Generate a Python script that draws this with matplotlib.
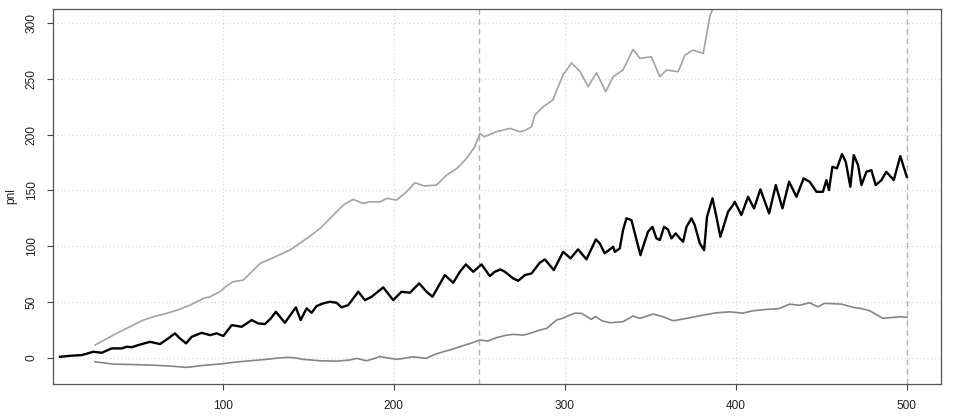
import numpy as np
import matplotlib
matplotlib.use("Agg")
import matplotlib.pyplot as plt

# pnl series (x = step, y = pnl)
pnl_x = [4.9, 11, 17.6, 24.4, 29.3, 35.1, 41, 43.9, 47, 50.7, 57.5, 63.4, 68.2, 72.1, 75, 78.6,
         81.9, 87.7, 92.6, 96.5, 100.4, 105.3, 111.1, 117, 120.8, 124.7, 128, 131.1, 133.5,
         136.4, 142.8, 145.6, 149.1, 152, 154.9, 158.8, 162.7, 166.6, 169.5, 173.4, 179.3,
         183.2, 187.1, 193.9, 199.7, 204.6, 209.5, 214.9, 219.2, 222.7, 226, 229.9, 234.8,
         238.7, 242.2, 246.5, 251.4, 256.2, 259.1, 262.5, 265, 269.8, 272.8, 276.7, 280.6,
         285.4, 288.4, 293.6, 299.1, 303.4, 307.8, 312.7, 318.2, 320.5, 323.4, 328.3, 329.3,
         332.2, 334.1, 336.1, 339, 342, 344.3, 345.8, 348.7, 351.3, 353.6, 355.6, 358.1, 360.4,
         362.4, 364.9, 367.3, 369.2, 371.2, 374.1, 376, 379, 381.5, 383.2, 386.4, 388.7, 391,
         395.5, 398.4, 399.4, 403.3, 407.2, 410.7, 414.4, 419.5, 423.4, 427.3, 431.2, 435.5,
         439.7, 443.2, 447.2, 451, 453, 454.5, 456.5, 459.2, 462.1, 464.3, 467, 469, 471.5,
         473.5, 476.4, 479.3, 481.8, 485.2, 488, 492.4, 496.2, 500]
pnl_y = [0.9, 1.8, 2.4, 5.4, 4.5, 8.4, 8.4, 9.9, 9.5, 11.4, 14.3, 12.3, 17.4, 21.9, 17.4, 12.9,
         18.8, 22.4, 20.3, 21.9, 19.5, 29.3, 27.8, 33.8, 30.8, 30.2, 35, 41.2, 36.8, 31.4, 45.2,
         33.8, 44.3, 40.3, 46.3, 48.8, 50.2, 49.3, 45.2, 47.2, 59.2, 51.7, 54.7, 63.1, 51.7,
         59.2, 58.3, 66.7, 59.2, 54.7, 63.6, 74.1, 67.2, 77.1, 83.7, 77.1, 83.7, 73.2, 77.1,
         79.2, 77.1, 71.2, 69, 74.1, 75.6, 85.2, 88.2, 78.6, 95, 89.1, 97.2, 88.2, 106.1, 102.5,
         93.6, 99.5, 95, 98, 114.5, 125, 123.4, 105.5, 92, 99.5, 113, 117.4, 107, 105.5, 117.4,
         115, 107, 111.5, 107, 104, 117.4, 125, 119, 102.5, 96.5, 126.4, 142.9, 126.4, 108.5,
         130.9, 136.9, 139.8, 128, 144.3, 133.9, 151, 129.4, 154.8, 133.9, 157.8, 144.3, 160.8,
         157.8, 148.8, 148.8, 159.3, 150.3, 171.2, 169.8, 182.6, 175.7, 153.3, 181.7, 172.7,
         154.8, 166.7, 168.2, 154.8, 159.3, 166.7, 159.3, 180.8, 162.2]

upper_x = [25.4, 32, 38, 46, 53.6, 60, 67.3, 74, 81, 88.7, 92.6, 98.4, 102, 106, 112, 117, 122,
           130, 139.3, 145, 151, 157, 164, 170.5, 176.3, 182, 186, 192, 196, 201.7, 207, 212.4,
           218, 225, 231, 237, 242.6, 247.4, 250.4, 253, 260, 268, 274, 277, 280.6, 282.5,
           287.4, 293, 299, 304, 309, 313.7, 318.6, 324, 328.3, 334, 340, 344, 350.7, 355.6,
           359.5, 366.3, 370.3, 375, 381, 384.8, 386.4, 390, 395]
upper_y = [11.4, 17, 21.9, 28, 33.8, 37, 39.8, 43, 47.2, 53.2, 54.7, 59.2, 64, 68.1, 69.6, 77,
           84.6, 90, 96.5, 102.5, 109, 116, 127, 136.9, 142, 138.4, 139.8, 139.8, 142.9, 141.4,
           148, 156.9, 154, 154.8, 163.8, 169.8, 178.7, 189.1, 201.1, 198.1, 202.6, 205.6,
           202.6, 204, 207, 217.5, 225, 231, 253.4, 264.4, 256.4, 243, 255.5, 238.4, 251.9,
           257.9, 276.4, 268.4, 269.8, 251.9, 257.9, 256.4, 271.3, 275.8, 272.9, 305.7, 312.3,
           318, 325]

lower_x = [25.4, 36, 46, 57.5, 69, 79, 90.6, 98.4, 104, 110, 116, 125.7, 131, 137.4, 142, 147,
           152, 157, 166.6, 174.4, 178.3, 184, 188, 192, 196, 201.7, 206, 211.4, 215, 219, 224,
           229, 234, 238.6, 244, 250.4, 255, 260, 266, 270, 275.7, 279.6, 285.4, 289.4, 295.2,
           299, 303, 306, 309.8, 315.6, 318, 322, 326.4, 334, 340, 344, 351.7, 357.5, 363.4,
           371.2, 381, 388.7, 396.5, 404, 410, 417.9, 425, 431.6, 437, 443.2, 448, 452, 461.8,
           468.6, 474, 478.3, 482, 486, 492, 496.8, 500]
lower_y = [-3.6, -5.7, -6, -6.5, -7.4, -8.6, -6.5, -5.6, -4.5, -3.5, -2.7, -1.4, -0.5, 0.4, 0,
           -1.4, -2, -2.7, -3, -2, -0.5, -2.7, -1, 1.2, 0, -1.4, -0.5, 0.9, 0.2, -0.5, 3, 5.4,
           7.5, 9.9, 12.5, 15.9, 15, 18, 20.3, 21, 20.3, 21.9, 24.8, 26.4, 33.8, 35.5, 38.3, 40,
           39.8, 34.4, 37, 33, 31.4, 32.3, 37.4, 35.3, 39.2, 36.8, 33.2, 35.3, 38.3, 40.3, 41.2,
           40, 42.1, 43.4, 44, 48.1, 47, 49.3, 45.7, 48.8, 48.1, 45.2, 44, 42.1, 39, 35.3, 36.2,
           36.8, 36.2]

vlines = [250, 500]

plt.rcParams["font.family"] = ["Liberation Sans", "DejaVu Sans"]

fig = plt.figure(figsize=(9.6, 4.16), dpi=100)
ax = fig.add_axes([0.0552, 0.078, 0.9250, 0.900])

ax.set_xlim(0.8, 520)
ax.set_ylim(-23.1, 312.5)

# dotted grid, R style
for xv in [100, 200, 300, 400, 500]:
    ax.axvline(xv, color="#d8d8d8", lw=0.9, ls=(0, (1, 2)), zorder=0)
for yv in range(0, 301, 50):
    ax.axhline(yv, color="#d8d8d8", lw=0.9, ls=(0, (1, 2)), zorder=0)

for xv in vlines:
    ax.axvline(xv, color="#b4b4b4", lw=1.0, ls=(0, (4, 3)), zorder=1)

ax.plot(upper_x, upper_y, color="#a3a3a3", lw=1.2, zorder=2)
ax.plot(lower_x, lower_y, color="#858585", lw=1.2, zorder=2)
ax.plot(pnl_x, pnl_y, color="black", lw=1.7, zorder=3)

ax.set_xticks([100, 200, 300, 400, 500])
ax.set_yticks(range(0, 301, 50))
ax.tick_params(axis="both", direction="out", length=4, width=0.8, color="#444444",
               labelsize=8.6, labelcolor="#222222")
ax.tick_params(axis="x", pad=7.5)
ax.tick_params(axis="y", pad=7)
for lab in ax.get_yticklabels():
    lab.set_rotation(90)
    lab.set_va("center")

for sp in ax.spines.values():
    sp.set_color("#555555")
    sp.set_linewidth(0.9)

fig.text(0.006, 0.978 - 0.45, "pnl", rotation=90, ha="left", va="center",
         fontsize=8.6, color="#222222")

fig.savefig("out.png", dpi=100)
